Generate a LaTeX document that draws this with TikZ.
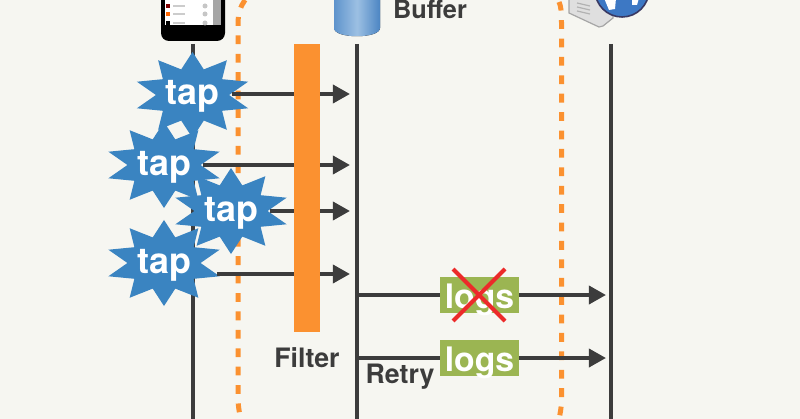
\documentclass[tikz,border=0pt]{standalone}
\usepackage{fontspec}
\setmainfont{TeX Gyre Heros}
\usetikzlibrary{arrows.meta,shapes.geometric}
\definecolor{paper}{HTML}{F6F6F1}
\definecolor{inkgrey}{HTML}{3C3C3C}
\definecolor{filterorange}{HTML}{FB9130}
\definecolor{tapblue}{HTML}{3A84C1}
\definecolor{logsgreen}{HTML}{9BB552}
\definecolor{crossred}{HTML}{EC2A2A}
\definecolor{bufferleft}{HTML}{5E93CC}
\definecolor{buffermid}{HTML}{9CC0E3}
\definecolor{bufferright}{HTML}{4C85C3}
\definecolor{globeblue}{HTML}{3D78C4}
\tikzset{
  lifeline/.style={draw=inkgrey,line width=0.1cm},
  msg/.style={draw=inkgrey,line width=0.1cm,-{Triangle[length=0.43cm,width=0.45cm]}},
  boundary/.style={draw=filterorange,line width=0.125cm,dash pattern=on 0.22cm off 0.24cm},
  tapstar/.style={star,star points=10,star point ratio=1.6,fill=tapblue,inner sep=0pt,minimum size=2.15cm,xscale=1.36},
  taplabel/.style={text=white,font=\fontsize{25.5}{25.5}\selectfont\bfseries,inner xsep=0.3cm,inner ysep=0pt,text height=0.5cm,text depth=0pt},
  logsbox/.style={fill=logsgreen,text=white,font=\fontsize{24}{24}\selectfont\bfseries,inner sep=0pt,minimum width=1.975cm,minimum height=0.9cm,text height=0.65cm,text depth=0pt},
  caption/.style={text=inkgrey,font=\fontsize{19}{19}\selectfont\bfseries,anchor=base,inner sep=0pt},
}
\begin{document}
\begin{tikzpicture}[x=0.025cm,y=-0.025cm]
\useasboundingbox (0,0) rectangle (800,419);
\clip (0,0) rectangle (800,419);
\fill[paper] (0,0) rectangle (800,419);
% boundaries
\draw[boundary] (245,0) .. controls (241,6) and (238,12) .. (238,24) -- (238,398) .. controls (238,405) and (239,410) .. (240,416);
\draw[boundary] (559,2) .. controls (561,6) and (561.5,12) .. (561.5,24) -- (561.5,400) .. controls (561.5,408) and (560,414) .. (558,424);
% phone
\fill[black,rounded corners=0.2cm] (161,-30) rectangle (225,41);
\fill[white] (165,-10) rectangle (221,25);
\fill[gray!70] (213,-10) rectangle (221,25);
\foreach \rowy/\rowcol in {6/red!50!black,14/orange!80!red,23/black}{
  \fill[\rowcol] (166,\rowy-2) rectangle (170,\rowy+2);
  \fill[gray!40] (173,\rowy-1) rectangle (185,\rowy+1);
  \fill[gray!45] (205,\rowy) circle (2.5);
}
% buffer
\fill[left color=bufferleft,right color=bufferright,middle color=buffermid] (334,-10) -- (334,28) .. controls (334,39) and (380,39) .. (380,28) -- (380,-10) -- cycle;
% server
\filldraw[fill=gray!25,draw=gray!70,line width=0.03cm] (569,-5) -- (569,13) -- (599,27) -- (603,26) -- (613,18) -- (613,-5) -- cycle;
\foreach \stripey in {6,10,14}{
  \draw[gray!60,line width=0.03cm] (577,\stripey-3) -- (590,\stripey);
}
\begin{scope}
\clip (622,-10) circle (27);
\fill[globeblue] (622,-10) circle (27);
\fill[white] (604,-2) -- (616,-2) -- (615,9) -- (609,10) -- cycle;
\fill[white] (632,-2) -- (639,-2) -- (637,5) -- (632,5) -- cycle;
\end{scope}
\draw[blue!30!black!55!gray,line width=0.04cm] (622,-10) circle (27);
% lifelines
\coordinate (phoneTop) at (192.5,44);
\coordinate (phoneEnd) at (192.5,425);
\coordinate (bufferTop) at (356.5,44);
\coordinate (bufferEnd) at (356.5,425);
\coordinate (serverTop) at (611,44);
\coordinate (serverEnd) at (611,425);
\draw[lifeline] (phoneTop)--(phoneEnd);
\draw[lifeline] (bufferTop)--(bufferEnd);
\draw[lifeline] (serverTop)--(serverEnd);
% taps
\node[tapstar] (starA) at (192.5,95) {};
\node[tapstar] (starB) at (164,165) {};
\node[tapstar] (starD) at (164,263) {};
\node[tapstar] (starC) at (231,211) {};
\node[taplabel] (tapA) at (192.5,94) {tap};
\node[taplabel] (tapB) at (164,165) {tap};
\node[taplabel] (tapC) at (231,211) {tap};
\node[taplabel] (tapD) at (164,263) {tap};
\coordinate (fromD) at (217,274);
\coordinate (inA) at (350,94);
\coordinate (inB) at (350,165);
\coordinate (inC) at (350,211);
\coordinate (inD) at (350,274);
\draw[msg] (tapA.east)--(inA);
\draw[msg] (tapB.east)--(inB);
\draw[msg] (tapC.east)--(inC);
\draw[msg] (fromD)--(inD);
% filter
\node[fill=filterorange,inner sep=0pt,minimum width=0.65cm,minimum height=7.2cm] (filterbar) at (307,188) {};
\node[caption] (filterlabel) at (307,367) {Filter};
\node[caption,font=\fontsize{18}{18}\selectfont\bfseries] (bufferlabel) at (430,19) {Buffer};
% sends
\coordinate (sendA) at (356.5,295);
\coordinate (sendB) at (356.5,358);
\coordinate (outA) at (606,295);
\coordinate (outB) at (606,358);
\draw[msg] (sendA)--(outA);
\draw[msg] (sendB)--(outB);
\node[logsbox] (logsA) at (479.5,295) {logs};
\node[logsbox] (logsB) at (479.5,358) {logs};
\draw[crossred,line width=0.1cm] (453,269)--(505,321);
\draw[crossred,line width=0.1cm] (505,269)--(453,321);
\node[caption] (retrylabel) at (400,383) {Retry};
\end{tikzpicture}
\end{document}
